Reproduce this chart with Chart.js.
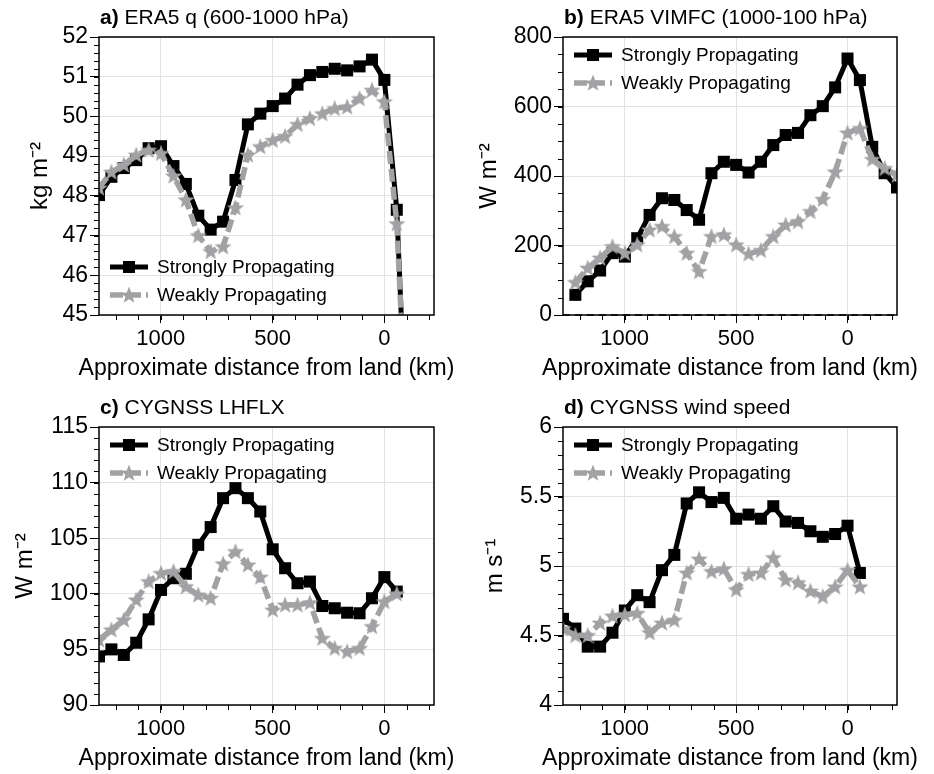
<!DOCTYPE html>
<html>
<head>
<meta charset="utf-8">
<script src="https://cdn.jsdelivr.net/npm/chart.js"></script>
<style>
html, body { margin: 0; padding: 0; background: #fff; overflow: hidden; }
#wrap { position: relative; width: 934px; height: 774px; }
#wrap canvas { position: absolute; }
</style>
</head>
<body>
<div id="wrap">
    <canvas id="panel_a" width="467" height="390" style="left:0px;top:0px"></canvas>
    <canvas id="panel_b" width="467" height="390" style="left:467px;top:0px"></canvas>
    <canvas id="panel_c" width="467" height="390" style="left:0px;top:390px"></canvas>
    <canvas id="panel_d" width="467" height="390" style="left:467px;top:390px"></canvas>
</div>
<script>
// Distance from land (km), every 0.5 degree
const distance_km = [1276.5, 1221, 1165.5, 1110, 1054.5, 999, 943.5, 888, 832.5, 777, 721.5, 666,
    610.5, 555, 499.5, 444, 388.5, 333, 277.5, 222, 166.5, 111, 55.5, 0, -55.5, -111, -166.5, -222]

// a) ERA5 q (600-1000 hPa), kg m-2
const q_strong = [48.02, 48.48, 48.7, 48.9, 49.2, 49.25, 48.75, 48.3, 47.5, 47.15, 47.35, 48.4, 49.8,
    50.07, 50.26, 50.45, 50.8, 51.04, 51.12, 51.2, 51.16, 51.26, 51.43, 50.92, 47.65, 40.3, null, null]
const q_weak = [48.2, 48.6, 48.78, 49.03, 49.15, 49.07, 48.5, 47.9, 47.0, 46.6, 46.72, 47.7, 49.03,
    49.24, 49.4, 49.5, 49.8, 49.95, 50.07, 50.2, 50.24, 50.45, 50.66, 50.37, 47.3, 40.7, null, null]

// b) ERA5 VIMFC (1000-100 hPa), W m-2
const vimfc_strong = [null, 58, 97, 128, 178, 168, 221, 288, 336, 331, 302, 274, 408, 441, 432, 410,
    441, 489, 518, 524, 575, 601, 655, 738, 676, 484, 408, 367]
const vimfc_weak = [null, 94, 135, 164, 197, 178, 202, 245, 255, 226, 178, 125, 226, 231, 202, 176,
    186, 226, 259, 269, 298, 333, 412, 524, 537, 448, 422, 403]

// c) CYGNSS LHFLX, W m-2
const lhflx_strong = [94.37, 95.0, 94.5, 95.6, 97.7, 100.35, 101.4, 101.8, 104.4, 106.0, 108.6, 109.5,
    108.6, 107.4, 104.0, 102.3, 100.95, 101.1, 98.9, 98.7, 98.3, 98.25, 99.6, 101.5, 100.2, null, null, null]
const lhflx_weak = [95.86, 96.76, 97.66, 99.45, 101.1, 101.84, 102.0, 100.65, 99.9, 99.6, 102.7, 103.8,
    102.6, 101.5, 98.55, 99.0, 99.0, 99.2, 96.0, 95.1, 94.8, 95.1, 97.06, 99.3, 100.0, null, null, null]

// d) CYGNSS wind speed, m s-1
const wind_strong = [4.62, 4.55, 4.42, 4.42, 4.52, 4.68, 4.79, 4.74, 4.97, 5.08, 5.45, 5.53, 5.46, 5.49,
    5.34, 5.37, 5.34, 5.43, 5.32, 5.31, 5.25, 5.21, 5.23, 5.29, 4.95, null, null, null]
const wind_weak = [4.55, 4.5, 4.5, 4.59, 4.64, 4.65, 4.66, 4.52, 4.59, 4.61, 4.95, 5.05, 4.96, 4.98,
    4.83, 4.94, 4.95, 5.06, 4.90, 4.88, 4.82, 4.78, 4.85, 4.97, 4.85, null, null, null]

const x_ticks_km = [0, 500, 1000]
const x_title = "Approximate distance from land (km)"

const font_family = "'Liberation Sans', Arial, sans-serif"
const gray = "#a2a2a5"

function make_star(color)
{
    const c = document.createElement("canvas")
    c.width = 20
    c.height = 20
    const ctx = c.getContext("2d")
    ctx.fillStyle = color
    ctx.beginPath()
    for (let i = 0; i < 10; ++i)
    {
        const r = i % 2 === 0 ? 9 : 3.8
        const a = -Math.PI / 2 + i * Math.PI / 5
        ctx.lineTo(10 + r * Math.cos(a), 10.5 + r * Math.sin(a))
    }
    ctx.closePath()
    ctx.fill()
    return c
}
const star_img = make_star(gray)

function to_points(values)
{
    return distance_km
        .map((d, i) => ({ x: d, y: values[i] }))
        .filter(p => p.y !== null)
}

// Frame, minor ticks, zero line, panel title, x title and legend
const panel_extras = {
    id: "panel_extras",
    afterDraw(chart, args, opts)
    {
        const { ctx, chartArea: area, scales: { x, y } } = chart
        ctx.save()

        if (opts.zero_line)
        {
            const y0 = y.getPixelForValue(0)
            ctx.strokeStyle = "#000"
            ctx.lineWidth = 1.5
            ctx.setLineDash([7, 5])
            ctx.beginPath()
            ctx.moveTo(area.left, y0)
            ctx.lineTo(area.right, y0)
            ctx.stroke()
            ctx.setLineDash([])
        }

        // minor ticks
        ctx.strokeStyle = "#000"
        ctx.lineWidth = 1
        ctx.beginPath()
        const nx0 = Math.ceil(x.min / opts.x_minor)
        const nx1 = Math.floor(x.max / opts.x_minor)
        for (let n = nx0; n <= nx1; ++n)
        {
            const px = Math.round(x.getPixelForValue(n * opts.x_minor)) + 0.5
            ctx.moveTo(px, area.bottom)
            ctx.lineTo(px, area.bottom + 5)
        }
        const ny0 = Math.round(y.min / opts.y_minor)
        const ny1 = Math.round(y.max / opts.y_minor)
        for (let n = ny0; n <= ny1; ++n)
        {
            const py = Math.round(y.getPixelForValue(n * opts.y_minor)) + 0.5
            ctx.moveTo(area.left - 5, py)
            ctx.lineTo(area.left, py)
        }
        ctx.stroke()

        // frame
        ctx.lineWidth = 1.5
        ctx.strokeRect(area.left, area.top, area.right - area.left, area.bottom - area.top)

        // panel title: bold letter, normal text
        ctx.fillStyle = "#000"
        ctx.textBaseline = "middle"
        ctx.textAlign = "left"
        ctx.font = "bold 21px " + font_family
        ctx.fillText(opts.letter, area.left + 1, 18)
        const w = ctx.measureText(opts.letter + " ").width
        ctx.font = "21px " + font_family
        ctx.fillText(opts.title, area.left + 1 + w, 18)

        // x axis title (drawn here so it is not squeezed to the axis width)
        ctx.textAlign = "center"
        ctx.font = "23px " + font_family
        ctx.fillText(opts.x_title, (area.left + area.right) / 2, 369)
        ctx.textAlign = "left"

        // legend
        const rows = opts.legend_at_bottom
            ? [area.bottom - 48, area.bottom - 20]
            : [area.top + 18, area.top + 46]
        chart.data.datasets.forEach((ds, i) => {
            const ry = rows[i]
            const x0 = area.left + 11
            const x1 = area.left + 49
            ctx.strokeStyle = ds.borderColor
            ctx.lineWidth = ds.borderWidth
            ctx.setLineDash(ds.borderDash || [])
            ctx.beginPath()
            ctx.moveTo(x0, ry)
            ctx.lineTo(x1, ry)
            ctx.stroke()
            ctx.setLineDash([])
            const mx = (x0 + x1) / 2
            if (ds.pointStyle === "rect")
            {
                ctx.fillStyle = ds.pointBackgroundColor
                ctx.fillRect(mx - 6, ry - 6, 12, 12)
            }
            else
            {
                ctx.drawImage(ds.pointStyle, mx - ds.pointStyle.width / 2, ry - ds.pointStyle.height / 2)
            }
            ctx.fillStyle = "#000"
            ctx.font = "19px " + font_family
            ctx.fillText(ds.label, area.left + 58, ry + 1)
        })

        ctx.restore()
    }
}

function plot_panel(canvas_id, cfg)
{
    const canvas = document.getElementById(canvas_id)
    new Chart(canvas, {
        type: "line",
        data: {
            datasets: [
                {
                    label: "Strongly Propagating",
                    data: to_points(cfg.strong),
                    borderColor: "#000",
                    borderWidth: 5,
                    pointStyle: "rect",
                    pointRadius: 8.5,
                    pointBackgroundColor: "#000",
                    pointBorderWidth: 0,
                    tension: 0,
                    clip: 0,
                    order: 1,
                },
                {
                    label: "Weakly Propagating",
                    data: to_points(cfg.weak),
                    borderColor: gray,
                    borderWidth: 5.5,
                    borderDash: [13, 5],
                    pointStyle: star_img,
                    pointRadius: 9,
                    tension: 0,
                    clip: 0,
                    order: 0,
                },
            ]
        },
        options: {
            responsive: false,
            animation: false,
            events: [],
            layout: {
                padding: { top: 37, right: 467 - cfg.plot_right, left: 0, bottom: 0 }
            },
            plugins: {
                legend: { display: false },
                tooltip: { enabled: false },
                panel_extras: {
                    letter: cfg.letter,
                    title: cfg.title,
                    x_title: x_title,
                    x_minor: 100,
                    y_minor: cfg.y_minor,
                    zero_line: cfg.zero_line || false,
                    legend_at_bottom: cfg.legend_at_bottom || false,
                },
            },
            scales: {
                x: {
                    type: "linear",
                    reverse: true,
                    min: distance_km[distance_km.length - 1],
                    max: distance_km[0],
                    afterBuildTicks: scale => {
                        scale.ticks = x_ticks_km.map(v => ({ value: v }))
                    },
                    ticks: {
                        autoSkip: false,
                        maxRotation: 0,
                        color: "#000",
                        padding: 3,
                        font: { family: font_family, size: 22 },
                        callback: v => String(v),
                    },
                    grid: { color: "#e2e2e2", lineWidth: 1, tickColor: "#000", tickLength: 8 },
                    border: { display: false },
                    afterFit: scale => { scale.height = 390 - 315 },
                },
                y: {
                    type: "linear",
                    min: cfg.y_min,
                    max: cfg.y_max,
                    ticks: {
                        stepSize: cfg.y_step,
                        color: "#000",
                        padding: 2,
                        font: { family: font_family, size: 23 },
                        callback: v => String(v),
                    },
                    grid: { color: "#e2e2e2", lineWidth: 1, tickColor: "#000", tickLength: 9 },
                    border: { display: false },
                    title: {
                        display: true,
                        text: cfg.y_title,
                        color: "#000",
                        font: { family: font_family, size: 24 },
                        padding: { top: cfg.y_title_x - 14.4, bottom: 0 },
                    },
                    afterFit: scale => { scale.width = cfg.plot_left },
                },
            },
        },
        plugins: [panel_extras],
    })
}

plot_panel("panel_a", {
    letter: "a)", title: "ERA5 q (600-1000 hPa)",
    strong: q_strong, weak: q_weak,
    y_min: 45, y_max: 52, y_step: 1, y_minor: 0.2,
    y_title: "kg m\u207B\u00B2", y_title_x: 40,
    plot_left: 99, plot_right: 434,
    legend_at_bottom: true,
})

plot_panel("panel_b", {
    letter: "b)", title: "ERA5 VIMFC (1000-100 hPa)",
    strong: vimfc_strong, weak: vimfc_weak,
    y_min: 0, y_max: 800, y_step: 200, y_minor: 50,
    y_title: "W m\u207B\u00B2", y_title_x: 22,
    plot_left: 96, plot_right: 430,
    zero_line: true,
})

plot_panel("panel_c", {
    letter: "c)", title: "CYGNSS LHFLX",
    strong: lhflx_strong, weak: lhflx_weak,
    y_min: 90, y_max: 115, y_step: 5, y_minor: 1,
    y_title: "W m\u207B\u00B2", y_title_x: 25,
    plot_left: 99, plot_right: 434,
})

plot_panel("panel_d", {
    letter: "d)", title: "CYGNSS wind speed",
    strong: wind_strong, weak: wind_weak,
    y_min: 4, y_max: 6, y_step: 0.5, y_minor: 0.1,
    y_title: "m s\u207B\u00B9", y_title_x: 28,
    plot_left: 96, plot_right: 430,
})
</script>
</body>
</html>
